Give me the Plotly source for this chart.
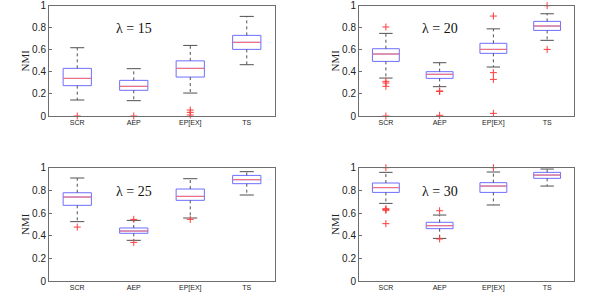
import plotly.graph_objects as go

categories = ["SCR", "AEP", "EP[EX]", "TS"]
lambdas = [15, 20, 25, 30]

# lambda = 15
hi_15 = [0.619, 0.429, 0.640, 0.903]
q3_15 = [0.432, 0.323, 0.500, 0.731]
med_15 = [0.341, 0.269, 0.432, 0.668]
q1_15 = [0.275, 0.233, 0.353, 0.604]
lo_15 = [0.145, 0.139, 0.208, 0.465]
out_15 = [[0.0], [0.0], [0.054, 0.033, 0.009], []]

# lambda = 20
hi_20 = [0.749, 0.483, 0.790, 0.927]
q3_20 = [0.610, 0.402, 0.659, 0.858]
med_20 = [0.562, 0.378, 0.604, 0.816]
q1_20 = [0.495, 0.341, 0.568, 0.776]
lo_20 = [0.344, 0.266, 0.444, 0.686]
out_20 = [[0.807, 0.314, 0.299, 0.269, 0.0], [0.227, 0.222, 0.006],
          [0.906, 0.393, 0.332, 0.024], [1.0, 0.604]]

# lambda = 25
hi_25 = [0.909, 0.535, 0.903, 0.965]
q3_25 = [0.779, 0.468, 0.812, 0.932]
med_25 = [0.741, 0.441, 0.747, 0.894]
q1_25 = [0.668, 0.421, 0.712, 0.859]
lo_25 = [0.524, 0.359, 0.556, 0.759]
out_25 = [[0.476], [0.544, 0.341], [0.544], []]

# lambda = 30
hi_30 = [0.959, 0.582, 0.962, 0.988]
q3_30 = [0.865, 0.518, 0.868, 0.959]
med_30 = [0.824, 0.488, 0.838, 0.935]
q1_30 = [0.782, 0.462, 0.782, 0.906]
lo_30 = [0.685, 0.376, 0.671, 0.838]
out_30 = [[1.0, 0.638, 0.624, 0.630, 0.506], [0.620, 0.371],
          [1.0], []]

y_ticks = [0, 0.2, 0.4, 0.6, 0.8, 1]
y_ticktext = ["0", "0.2", "0.4", "0.6", "0.8", "1"]

panels = [
    (15, hi_15, q3_15, med_15, q1_15, lo_15, out_15),
    (20, hi_20, q3_20, med_20, q1_20, lo_20, out_20),
    (25, hi_25, q3_25, med_25, q1_25, lo_25, out_25),
    (30, hi_30, q3_30, med_30, q1_30, lo_30, out_30),
]

W, H = 592, 305
x_domains = [[49 / W, 275 / W], [359 / W, 574 / W],
             [49 / W, 275 / W], [359 / W, 574 / W]]
y_domains = [[1 - 116 / H, 1 - 5.7 / H], [1 - 116 / H, 1 - 5.7 / H],
             [1 - 281 / H, 1 - 167.7 / H], [1 - 281 / H, 1 - 167.7 / H]]

BLUE = "rgb(110,110,255)"
RED = "rgb(255,110,110)"
OUTRED = "rgb(255,60,60)"
WHISK = "rgb(80,80,80)"
BOXW = 0.5
CAPW = 0.25

fig = go.Figure()
layout = {}
annotations = []

for i, (lam, hi, q3, med, q1, lo, outs) in enumerate(panels):
    sfx = "" if i == 0 else str(i + 1)
    xa, ya = "x" + sfx, "y" + sfx
    xpos = list(range(1, len(categories) + 1))
    # boxes
    fig.add_trace(go.Box(
        x=xpos, q1=q1, median=med, q3=q3, lowerfence=q1, upperfence=q3,
        width=BOXW, whiskerwidth=0, line=dict(color=BLUE, width=1),
        fillcolor="rgba(0,0,0,0)", boxpoints=False, xaxis=xa, yaxis=ya,
        showlegend=False, hoverinfo="skip"))
    for k in range(len(categories)):
        xc = xpos[k]
        # dashed whiskers
        fig.add_trace(go.Scatter(
            x=[xc, xc, None, xc, xc], y=[q3[k], hi[k], None, q1[k], lo[k]],
            mode="lines", line=dict(color=WHISK, width=1, dash="3px,3px"),
            xaxis=xa, yaxis=ya, showlegend=False, hoverinfo="skip"))
        # caps
        fig.add_trace(go.Scatter(
            x=[xc - CAPW / 2, xc + CAPW / 2, None, xc - CAPW / 2, xc + CAPW / 2],
            y=[hi[k], hi[k], None, lo[k], lo[k]],
            mode="lines", line=dict(color=WHISK, width=1),
            xaxis=xa, yaxis=ya, showlegend=False, hoverinfo="skip"))
        # median
        fig.add_trace(go.Scatter(
            x=[xc - BOXW / 2, xc + BOXW / 2], y=[med[k], med[k]],
            mode="lines", line=dict(color=RED, width=1),
            xaxis=xa, yaxis=ya, showlegend=False, hoverinfo="skip"))
        # outliers
        if outs[k]:
            fig.add_trace(go.Scatter(
                x=[xc] * len(outs[k]), y=outs[k], mode="markers",
                marker=dict(symbol="cross-thin-open", size=5, color=OUTRED,
                            line=dict(color=OUTRED, width=1)),
                xaxis=xa, yaxis=ya, showlegend=False, hoverinfo="skip",
                cliponaxis=False))
    axis_line = dict(showline=True, linecolor="rgb(110,110,110)", linewidth=1,
                     mirror=True, showgrid=False, zeroline=False,
                     automargin=False)
    layout["xaxis" + sfx] = dict(
        domain=x_domains[i], range=[0.5, 4.5], tickmode="array",
        tickvals=xpos, ticktext=categories, ticks="",
        tickfont=dict(family="Liberation Sans, Arial", size=7, color="#222"),
        anchor=ya, **axis_line)
    layout["yaxis" + sfx] = dict(
        domain=y_domains[i], range=[0, 1], tickmode="array",
        tickvals=y_ticks, ticktext=y_ticktext, ticks="inside", ticklen=3,
        tickcolor="rgb(110,110,110)",
        tickfont=dict(family="Liberation Sans, Arial", size=10, color="#222"),
        title=dict(text="NMI", standoff=0,
                   font=dict(family="Liberation Serif, Times New Roman",
                             size=11, color="#222")),
        anchor=xa, **axis_line)
    annotations.append(dict(
        x=2, y=0.79, xref=xa, yref=ya, text=f"λ = {lam}", showarrow=False,
        font=dict(family="Liberation Serif, Times New Roman", size=14,
                  color="#111")))

fig.update_layout(
    width=W, height=H, margin=dict(l=0, r=0, t=0, b=0),
    paper_bgcolor="white", plot_bgcolor="white", boxmode="overlay",
    annotations=annotations, **layout)

fig.write_html("out.html",
               config={"displayModeBar": False},
               post_script="document.body.style.margin='0';"
                           "document.body.style.overflow='hidden';")
